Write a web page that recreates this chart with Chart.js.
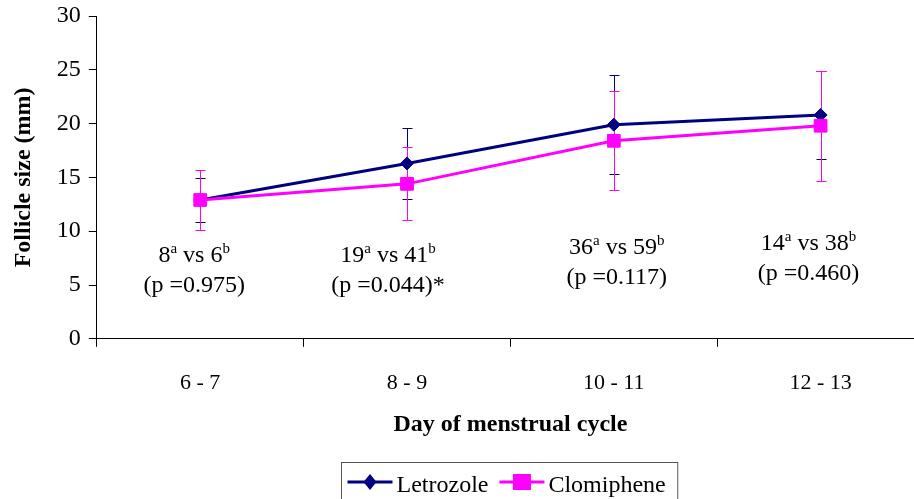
<!DOCTYPE html>
<html><head><meta charset="utf-8">
<script src="https://cdn.jsdelivr.net/npm/chart.js@4.4.1/dist/chart.umd.min.js"></script>
<style>
html,body{margin:0;padding:0;background:#fff;overflow:hidden;width:914px;height:499px;}
#wrap{width:934px;height:499px;}
canvas{display:block;}
</style></head><body>
<div id="wrap"><canvas id="c" width="934" height="499" style="width:934px;height:499px"></canvas></div>
<script>
// ---- data ----
const categories = ['6 - 7', '8 - 9', '10 - 11', '12 - 13'];
const letrozoleMean = [12.9, 16.3, 19.9, 20.8];
const letrozoleSD = [2.0, 3.3, 4.6, 4.1];
const clomipheneMean = [12.9, 14.4, 18.4, 19.8];
const clomipheneSD = [2.8, 3.4, 4.6, 5.1];
const yTicks = [0, 5, 10, 15, 20, 25, 30];
const letrozoleN = [8, 19, 36, 14];
const clomipheneN = [6, 41, 59, 38];
const pValues = ['0.975', '0.044', '0.117', '0.460'];
const significant = [false, true, false, false];

// ---- annotation placement (layout only) ----
const annotDx = [-6, -19, 3, -12];        // px offset from category centre
const annotYValue = [7.9, 7.9, 8.65, 9.0]; // y (axis units) of first line centre
const annotLineGap = 30;

const SERIF = "'Liberation Serif', 'Times New Roman', serif";
const NAVY = '#000080', MAGENTA = '#FF00FF';

function drawRich(ctx, segs, cx, baseline, size) {
  const supSize = Math.round(size * 0.62);
  let total = 0;
  segs.forEach(s => {
    ctx.font = (s.sup ? supSize : size) + 'px ' + SERIF;
    s.w = ctx.measureText(s.t).width;
    total += s.w;
  });
  let x = cx - total / 2;
  ctx.textAlign = 'left';
  ctx.textBaseline = 'alphabetic';
  segs.forEach(s => {
    ctx.font = (s.sup ? supSize : size) + 'px ' + SERIF;
    ctx.fillText(s.t, x, s.sup ? baseline - size * 0.38 : baseline);
    x += s.w;
  });
}

const errorBars = {
  id: 'errorBars',
  beforeDatasetsDraw(chart) {
    const ctx = chart.ctx, xs = chart.scales.x, ys = chart.scales.y;
    const sets = [[letrozoleMean, letrozoleSD, NAVY], [clomipheneMean, clomipheneSD, MAGENTA]];
    ctx.save();
    ctx.lineWidth = 1;
    sets.forEach(([m, sd, col]) => {
      ctx.strokeStyle = col;
      m.forEach((v, i) => {
        const x = Math.round(xs.getPixelForValue(i)) + 0.5;
        const t = Math.round(ys.getPixelForValue(v + sd[i])) + 0.5;
        const b = Math.round(ys.getPixelForValue(v - sd[i])) + 0.5;
        ctx.beginPath();
        ctx.moveTo(x, t); ctx.lineTo(x, b);
        ctx.moveTo(x - 5, t); ctx.lineTo(x + 5, t);
        ctx.moveTo(x - 5, b); ctx.lineTo(x + 5, b);
        ctx.stroke();
      });
    });
    ctx.restore();
  }
};

const annotations = {
  id: 'annotations',
  afterDatasetsDraw(chart) {
    const ctx = chart.ctx, xs = chart.scales.x, ys = chart.scales.y;
    const size = 24;
    ctx.save();
    ctx.fillStyle = '#000';
    categories.forEach((c, i) => {
      const cx = xs.getPixelForValue(i) + annotDx[i];
      const yc = ys.getPixelForValue(annotYValue[i]);
      const b1 = yc + size * 0.34;
      drawRich(ctx, [
        {t: String(letrozoleN[i])}, {t: 'a', sup: true},
        {t: ' vs ' + clomipheneN[i]}, {t: 'b', sup: true}
      ], cx, b1, size);
      drawRich(ctx, [{t: '(p =' + pValues[i] + ')' + (significant[i] ? '*' : '')}], cx, b1 + annotLineGap, size);
    });
    ctx.restore();
  }
};

const customLegend = {
  id: 'customLegend',
  afterDraw(chart) {
    const ctx = chart.ctx, ca = chart.chartArea;
    const size = 24;
    ctx.save();
    ctx.font = size + 'px ' + SERIF;
    const items = chart.data.datasets.map(d => ({label: d.label, color: d.borderColor, style: d.pointStyle, w: ctx.measureText(d.label).width}));
    const lineLen = 45, gapText = 4, gapItem = 11, padL = 6, padR = 12;
    let total = padL + padR;
    items.forEach((it, k) => { total += lineLen + gapText + it.w + (k ? gapItem : 0); });
    const cx = (ca.left + ca.right) / 2 - 1.5;
    const left = Math.round(cx - total / 2) + 0.5;
    const top = 462.5, ym = 482;
    ctx.strokeStyle = '#555'; ctx.lineWidth = 1;
    ctx.strokeRect(left, top, total, 60);
    let x = left + padL;
    items.forEach((it, k) => {
      if (k) x += gapItem;
      ctx.strokeStyle = it.color; ctx.fillStyle = it.color; ctx.lineWidth = 3;
      ctx.beginPath(); ctx.moveTo(x, ym); ctx.lineTo(x + lineLen, ym); ctx.stroke();
      const mx = x + lineLen / 2;
      ctx.beginPath();
      if (it.style === 'rectRot') {
        ctx.moveTo(mx, ym - 8); ctx.lineTo(mx + 6.5, ym); ctx.lineTo(mx, ym + 8); ctx.lineTo(mx - 6.5, ym); ctx.closePath();
      } else {
        ctx.rect(mx - 9, ym - 8, 18, 16);
      }
      ctx.fill();
      x += lineLen + gapText;
      ctx.fillStyle = '#000';
      ctx.textAlign = 'left'; ctx.textBaseline = 'alphabetic';
      ctx.fillText(it.label, x, 492);
      x += it.w;
    });
    ctx.restore();
  }
};

new Chart(document.getElementById('c'), {
  type: 'line',
  data: {
    labels: categories,
    datasets: [
      {label: 'Letrozole', data: letrozoleMean, borderColor: NAVY, backgroundColor: NAVY,
       borderWidth: 3, pointStyle: 'rectRot', pointRadius: 6.5, pointBorderWidth: 1, order: 1, tension: 0},
      {label: 'Clomiphene', data: clomipheneMean, borderColor: MAGENTA, backgroundColor: MAGENTA,
       borderWidth: 3, pointStyle: 'rect', pointRadius: 9, pointBorderWidth: 1, order: 0, tension: 0}
    ]
  },
  options: {
    responsive: false, animation: false, events: [], devicePixelRatio: 1,
    layout: {padding: {left: 7, right: 6, top: 10, bottom: 60}},
    plugins: {legend: {display: false}, tooltip: {enabled: false}},
    scales: {
      x: {
        type: 'category', offset: true,
        grid: {display: true, drawOnChartArea: false, drawTicks: true, tickLength: 8, color: '#000', offset: true},
        border: {display: true, color: '#000', width: 1},
        ticks: {color: '#000', font: {family: SERIF, size: 22}, padding: 23, maxRotation: 0, autoSkip: false},
        title: {display: true, text: 'Day of menstrual cycle', color: '#000',
                font: {family: SERIF, size: 24, weight: 'bold'}, padding: {top: -9, bottom: 0}}
      },
      y: {
        min: 0, max: 30,
        afterBuildTicks: s => { s.ticks = yTicks.map(v => ({value: v})); },
        grid: {display: true, drawOnChartArea: false, drawTicks: true, tickLength: 8, color: '#000'},
        border: {display: true, color: '#000', width: 1},
        ticks: {color: '#000', font: {family: SERIF, size: 24, lineHeight: 0.667}, padding: 8},
        title: {display: true, text: 'Follicle size (mm)', color: '#000',
                font: {family: SERIF, size: 24, weight: 'bold'}, padding: {top: 2, bottom: 11}}
      }
    }
  },
  plugins: [errorBars, annotations, customLegend]
});
</script>
</body></html>
